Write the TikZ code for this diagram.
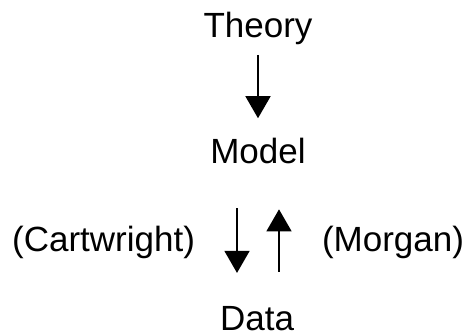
\documentclass[tikz,border=0pt]{standalone}
\usepackage{fontspec}
\setmainfont{Liberation Sans}
\usetikzlibrary{arrows.meta,calc,positioning}

\begin{document}
\begin{tikzpicture}[x=0.5pt,y=-0.5pt,>={Triangle[length=11pt,width=12.5pt]},
  lbl/.style={inner sep=0pt,outer sep=0pt,font=\fontsize{17.5}{21}\selectfont},
  arr/.style={->,line width=0.75pt}]
  \useasboundingbox (0,0) rectangle (464,335);
  % the four levels
  \node[lbl,anchor=base] (theory) at (258,38) {Theory};
  \node[lbl,anchor=base] (model) at (258,164) {Model};
  \node[lbl,anchor=base] (data) at (257,330) {Data};
  \node[lbl,anchor=base east] (cart) at (195,252) {(Cartwright)};
  \node[lbl,anchor=base west] (morgan) at (322,252) {(Morgan)};
  % arrows
  \draw[arr,shorten <=4.8pt,shorten >=10.2pt] (theory) -- (model);
  \draw[arr,shorten <=22pt,shorten >=16.5pt]
    ([xshift=-10.5pt]model.south) -- ([xshift=-10.5pt]model.south |- data.north);
  \draw[arr,shorten <=17pt,shorten >=22.5pt]
    ([xshift=10.5pt]model.south |- data.north) -- ([xshift=10.5pt]model.south);
\end{tikzpicture}
\end{document}
